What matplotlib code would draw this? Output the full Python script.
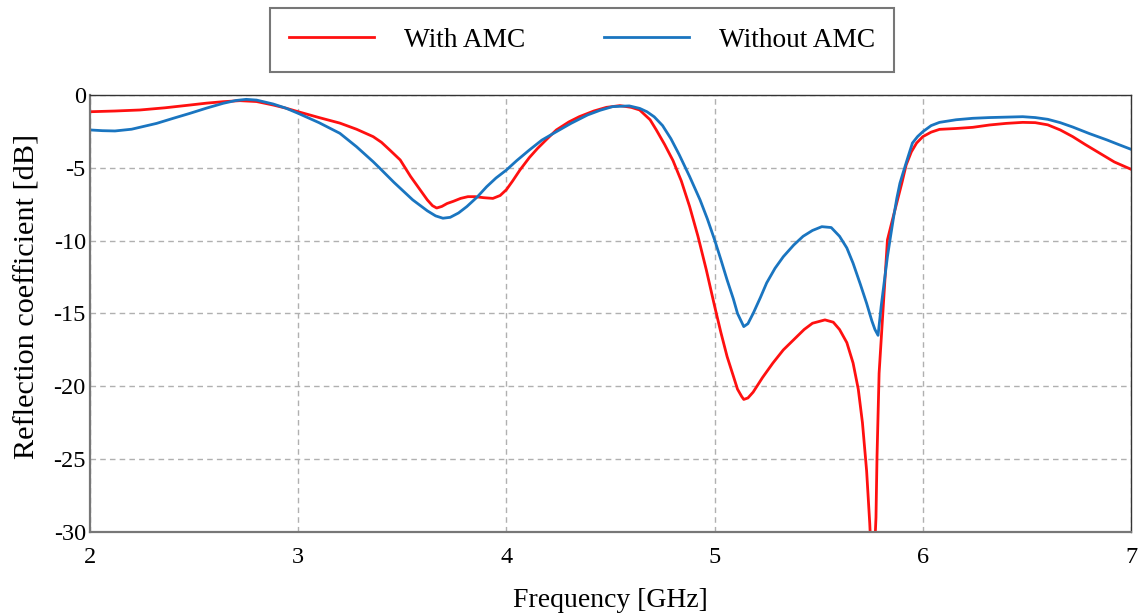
import matplotlib.pyplot as plt

# Frequency [GHz] / reflection coefficient [dB]
freq_with = [2.0, 2.12, 2.24, 2.36, 2.48, 2.56, 2.64, 2.72, 2.8, 2.88, 2.94,
             3.0, 3.1, 3.2, 3.28, 3.36, 3.4, 3.44, 3.49, 3.54, 3.585, 3.62,
             3.645, 3.665, 3.69, 3.715, 3.745, 3.78, 3.815, 3.85, 3.89, 3.935,
             3.97, 4.0, 4.03, 4.065, 4.11, 4.15, 4.2, 4.24, 4.3, 4.35, 4.42,
             4.48, 4.545, 4.6, 4.64, 4.69, 4.72, 4.76, 4.8, 4.84, 4.88, 4.92,
             4.96, 5.0, 5.03, 5.06, 5.09, 5.11, 5.13, 5.14, 5.16, 5.185, 5.23,
             5.28, 5.33, 5.38, 5.43, 5.47, 5.53, 5.57, 5.6, 5.635, 5.665,
             5.69, 5.71, 5.73, 5.745, 5.76, 5.775, 5.78, 5.79, 5.81, 5.83,
             5.85, 5.875, 5.9, 5.92, 5.945, 5.97, 6.0, 6.04, 6.08, 6.16,
             6.24, 6.32, 6.4, 6.48, 6.54, 6.6, 6.66, 6.72, 6.78, 6.85, 6.92,
             7.0]
s11_with = [-1.15, -1.1, -1.03, -0.88, -0.69, -0.56, -0.46, -0.39, -0.45,
            -0.69, -0.9, -1.15, -1.55, -1.93, -2.35, -2.86, -3.25, -3.78,
            -4.46, -5.6, -6.5, -7.2, -7.6, -7.76, -7.65, -7.45, -7.3, -7.1,
            -6.98, -6.98, -7.05, -7.1, -6.9, -6.5, -5.9, -5.15, -4.3, -3.66,
            -2.95, -2.4, -1.85, -1.49, -1.1, -0.85, -0.73, -0.85, -1.03,
            -1.7, -2.4, -3.4, -4.5, -5.9, -7.66, -9.7, -12.0, -14.5, -16.3,
            -17.96, -19.3, -20.2, -20.7, -20.9, -20.8, -20.4, -19.4, -18.4,
            -17.5, -16.8, -16.1, -15.67, -15.44, -15.6, -16.1, -17.0, -18.4,
            -20.2, -22.5, -25.8, -29.4, -34.0, -29.0, -24.8, -19.1, -14.5,
            -9.95, -8.8, -7.4, -6.0, -4.8, -3.9, -3.3, -2.86, -2.55, -2.36,
            -2.3, -2.22, -2.06, -1.95, -1.88, -1.9, -2.05, -2.4, -2.86,
            -3.4, -4.0, -4.6, -5.1]

freq_without = [2.0, 2.06, 2.12, 2.2, 2.32, 2.4, 2.48, 2.56, 2.64, 2.7, 2.75,
                2.8, 2.88, 2.94, 3.0, 3.1, 3.2, 3.28, 3.36, 3.39, 3.46, 3.55,
                3.62, 3.66, 3.695, 3.73, 3.77, 3.81, 3.86, 3.905, 3.95, 4.0,
                4.05, 4.11, 4.17, 4.24, 4.31, 4.39, 4.45, 4.51, 4.59, 4.64,
                4.675, 4.71, 4.75, 4.79, 4.83, 4.88, 4.93, 4.965, 5.0, 5.03,
                5.06, 5.09, 5.11, 5.13, 5.14, 5.16, 5.185, 5.22, 5.25, 5.29,
                5.33, 5.38, 5.425, 5.47, 5.515, 5.56, 5.6, 5.635, 5.665, 5.7,
                5.73, 5.755, 5.77, 5.785, 5.8, 5.815, 5.83, 5.845, 5.86,
                5.875, 5.89, 5.905, 5.93, 5.95, 5.975, 6.0, 6.04, 6.08, 6.16,
                6.24, 6.32, 6.4, 6.48, 6.54, 6.6, 6.66, 6.72, 6.8, 6.885,
                6.94, 7.0]
s11_without = [-2.4, -2.45, -2.47, -2.35, -1.95, -1.6, -1.26, -0.9, -0.57,
               -0.38, -0.3, -0.35, -0.62, -0.9, -1.26, -1.9, -2.63, -3.55,
               -4.58, -5.0, -6.0, -7.2, -7.95, -8.3, -8.46, -8.4, -8.1, -7.66,
               -7.0, -6.3, -5.7, -5.15, -4.5, -3.78, -3.1, -2.52, -1.95,
               -1.37, -1.05, -0.8, -0.75, -0.92, -1.15, -1.5, -2.1, -3.0,
               -4.1, -5.6, -7.2, -8.5, -9.95, -11.3, -12.7, -14.0, -15.0,
               -15.6, -15.9, -15.7, -15.0, -13.9, -12.9, -11.9, -11.1, -10.3,
               -9.7, -9.3, -9.04, -9.1, -9.7, -10.5, -11.55, -13.0, -14.3,
               -15.5, -16.1, -16.5, -14.5, -12.8, -11.1, -9.7, -8.35, -7.1,
               -6.06, -5.35, -4.2, -3.3, -2.85, -2.52, -2.1, -1.88, -1.7,
               -1.6, -1.55, -1.52, -1.49, -1.55, -1.67, -1.9, -2.2, -2.65,
               -3.09, -3.4, -3.73]

plt.rcParams['font.family'] = ['Liberation Serif', 'DejaVu Serif']
plt.rcParams['axes.unicode_minus'] = False

fig = plt.figure(figsize=(11.42, 6.14), dpi=100)
ax = fig.add_axes([0.0788, 0.1336, 0.9116, 0.7117])

ax.plot(freq_with, s11_with, color='#ff1010', lw=2.0, label='With AMC')
ax.plot(freq_without, s11_without, color='#1a75c0', lw=2.0, label='Without AMC')

ax.set_xlim(2, 7)
ax.set_ylim(-30, 0)
ax.set_xticks([2, 3, 4, 5, 6, 7])
ax.set_yticks([0, -5, -10, -15, -20, -25, -30])
ax.grid(True, linestyle=(0, (4, 3)), color='#b0b0b0', lw=1.0)
ax.tick_params(length=0, labelsize=17.5)
ax.tick_params(axis='y', pad=3)
ax.tick_params(axis='x', pad=11)
for s in ax.spines.values():
    s.set_color('#777777')
    s.set_linewidth(1.6)
for side in ('top', 'right'):
    ax.spines[side].set_color('#333333')
    ax.spines[side].set_linewidth(1.0)

ax.set_xlabel('Frequency [GHz]', fontsize=20, labelpad=14)
ax.set_ylabel('Reflection coefficient [dB]', fontsize=21.8)
ax.yaxis.set_label_coords(-0.048, 0.54)

leg = fig.legend(loc='center', bbox_to_anchor=(582 / 1142, 1 - 40 / 614),
                 ncol=2, fontsize=19.7, frameon=True, fancybox=False,
                 handlelength=3.1, handletextpad=1.1, columnspacing=2.9,
                 borderpad=0.7)
leg.get_frame().set_edgecolor('#555555')
leg.get_frame().set_linewidth(1.5)

fig.savefig('out.png', dpi=100)
